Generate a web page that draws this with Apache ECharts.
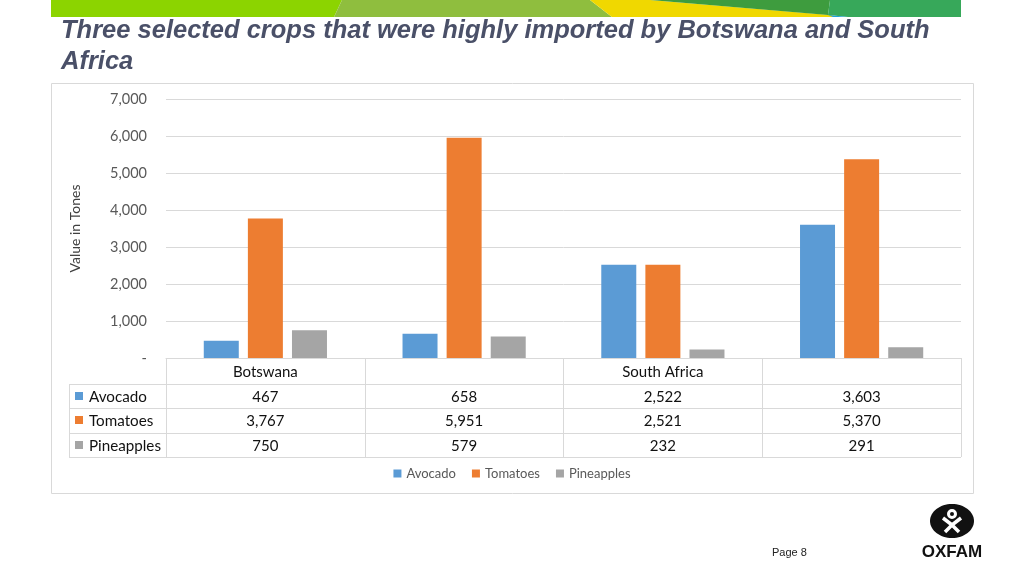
<!DOCTYPE html>
<html>
<head>
<meta charset="utf-8">
<script src="https://cdn.jsdelivr.net/npm/echarts@6/dist/echarts.min.js"></script>
<style>
  html, body { margin: 0; padding: 0; background: #fff; }
  #chart { width: 1024px; height: 576px; }
</style>
</head>
<body>
<div id="chart"></div>
<script>
// data
var categories = ['Botswana', '', 'South Africa', ''];
var avocado = [467, 658, 2522, 3603];
var tomatoes = [3767, 5951, 2521, 5370];
var pineapples = [750, 579, 232, 291];
var seriesNames = ['Avocado', 'Tomatoes', 'Pineapples'];
var colors = ['#5b9bd5', '#ed7d31', '#a5a5a5'];
var yTicks = [0, 1000, 2000, 3000, 4000, 5000, 6000, 7000];

var txtFont = 'Lato';
var gridCol = '#d9d9d9';

function fmt(v) {
    if (v === 0) return '-';
    return String(v).replace(/\B(?=(\d{3})+(?!\d))/g, ',');
}

var chart = echarts.init(document.getElementById('chart'));

var rows = [avocado, tomatoes, pineapples];
var rowOffsets = [25, 49, 74];

// table value rows are extra x axes under the plot
var extraAxes = rows.map(function (arr, k) {
    return {
        type: 'category',
        position: 'bottom',
        offset: rowOffsets[k],
        data: categories,
        axisLine: { show: false },
        axisTick: { show: false },
        axisLabel: {
            interval: 0,
            margin: 7,
            fontFamily: txtFont,
            fontSize: 15,
            color: '#111',
            formatter: function (v, i) { return fmt(arr[i]); }
        }
    };
});

// table row headers + grid lines (layout only)
var tableGraphics = [];
var rowLines = [384, 408, 433, 457];
rowLines.forEach(function (y) {
    tableGraphics.push({
        type: 'line', silent: true,
        shape: { x1: 69, y1: y + 0.5, x2: 961, y2: y + 0.5 },
        style: { stroke: gridCol, lineWidth: 1 }
    });
});
tableGraphics.push({
    type: 'line', silent: true,
    shape: { x1: 69.5, y1: 384, x2: 69.5, y2: 457 },
    style: { stroke: gridCol, lineWidth: 1 }
});
var rowCenters = [396, 420, 445];
seriesNames.forEach(function (n, k) {
    tableGraphics.push({
        type: 'rect', silent: true,
        shape: { x: 75, y: rowCenters[k] - 4, width: 8, height: 8 },
        style: { fill: colors[k] }
    });
    tableGraphics.push({
        type: 'text', silent: true,
        x: 89, y: rowCenters[k] + 1,
        style: {
            text: n, fontFamily: txtFont, fontSize: 15.2, fill: '#111',
            verticalAlign: 'middle'
        }
    });
});

var option = {
    animation: false,
    color: colors,
    grid: { left: 166, right: 63, top: 99, bottom: 218 },
    legend: {
        bottom: 91,
        left: 'center',
        icon: 'rect',
        itemWidth: 8,
        itemHeight: 8,
        itemGap: 16,
        textStyle: { fontFamily: txtFont, fontSize: 13, color: '#595959' },
        data: seriesNames
    },
    xAxis: [{
        type: 'category',
        data: categories,
        axisLine: { lineStyle: { color: gridCol } },
        axisTick: { show: true, interval: 0, length: 99, lineStyle: { color: gridCol } },
        axisLabel: {
            interval: 0, margin: 7,
            fontFamily: txtFont, fontSize: 15, color: '#111'
        }
    }].concat(extraAxes),
    yAxis: {
        type: 'value',
        min: 0,
        max: yTicks[yTicks.length - 1],
        interval: 1000,
        name: 'Value in Tones',
        nameLocation: 'middle',
        nameGap: 84,
        nameRotate: 90,
        nameTextStyle: { fontFamily: txtFont, fontSize: 14, color: '#404040' },
        axisLine: { show: false },
        axisTick: { show: false },
        splitLine: { lineStyle: { color: gridCol } },
        axisLabel: {
            margin: 19,
            fontFamily: txtFont, fontSize: 14.5, color: '#595959',
            formatter: function (v) { return fmt(v); }
        }
    },
    series: [
        { name: seriesNames[0], type: 'bar', data: avocado, barWidth: 35, barGap: '26%' },
        { name: seriesNames[1], type: 'bar', data: tomatoes, barWidth: 35, barGap: '26%' },
        { name: seriesNames[2], type: 'bar', data: pineapples, barWidth: 35, barGap: '26%' }
    ],
    graphic: [
        // top banner strip
        { type: 'polygon', silent: true, shape: { points: [[51, 0], [342, 0], [334, 17], [51, 17]] }, style: { fill: '#8cd400' } },
        { type: 'polygon', silent: true, shape: { points: [[342, 0], [590, 0], [612, 17], [334, 17]] }, style: { fill: '#8fbe3e' } },
        { type: 'polygon', silent: true, shape: { points: [[590, 0], [650, 0], [830, 15], [840, 17], [612, 17]] }, style: { fill: '#f0d800' } },
        { type: 'polygon', silent: true, shape: { points: [[650, 0], [830, 0], [828, 15]] }, style: { fill: '#3e9c3e' } },
        { type: 'polygon', silent: true, shape: { points: [[830, 0], [961, 0], [961, 17], [848, 17], [828, 15]] }, style: { fill: '#37a85a' } },
        { type: 'polygon', silent: true, shape: { points: [[828, 15], [848, 17], [833, 17]] }, style: { fill: '#1ea0d8' } },
        // title
        {
            type: 'text', silent: true, x: 61, y: 15,
            style: {
                text: 'Three selected crops that were highly imported by Botswana and South\nAfrica',
                fontFamily: 'Liberation Sans', fontStyle: 'italic', fontWeight: 'bold',
                fontSize: 25.5, lineHeight: 31, fill: '#4a5068'
            }
        },
        // chart frame
        {
            type: 'rect', silent: true, z: -1,
            shape: { x: 51.5, y: 83.5, width: 922, height: 410 },
            style: { fill: 'none', stroke: gridCol, lineWidth: 1 }
        },
        // page number
        {
            type: 'text', silent: true, x: 772, y: 547,
            style: { text: 'Page 8', fontFamily: 'Liberation Sans', fontSize: 11, fill: '#222' }
        },
        // Oxfam logo
        { type: 'ellipse', silent: true, shape: { cx: 952, cy: 521, rx: 22, ry: 17 }, style: { fill: '#111' } },
        { type: 'circle', silent: true, shape: { cx: 952, cy: 514, r: 3.5 }, style: { fill: 'none', stroke: '#fff', lineWidth: 3 } },
        { type: 'polyline', silent: true, shape: { points: [[943, 518], [952, 525], [961, 518]] }, style: { stroke: '#fff', lineWidth: 3.5, fill: 'none' } },
        { type: 'polyline', silent: true, shape: { points: [[945, 532], [952, 525], [959, 532]] }, style: { stroke: '#fff', lineWidth: 3.5, fill: 'none' } },
        {
            type: 'text', silent: true, x: 952, y: 552,
            style: {
                text: 'OXFAM', fontFamily: 'Liberation Sans', fontWeight: 'bold', fontSize: 17,
                fill: '#111', align: 'center', verticalAlign: 'middle'
            }
        }
    ].concat(tableGraphics)
};

chart.setOption(option);
</script>
</body>
</html>
